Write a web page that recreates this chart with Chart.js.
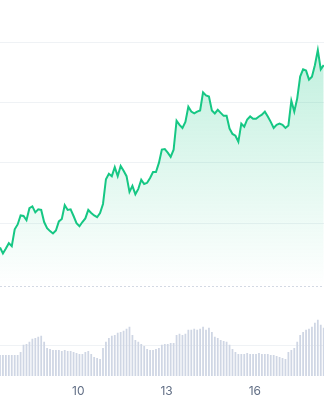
<!DOCTYPE html>
<html>
<head>
<meta charset="utf-8">
<script src="https://cdn.jsdelivr.net/npm/chart.js@4/dist/chart.umd.min.js"></script>
<style>
  html, body { margin: 0; padding: 0; background: #ffffff; }
  #wrap { width: 324px; height: 400px; position: relative; }
</style>
</head>
<body>
<div id="wrap"><canvas id="c"></canvas></div>
<script>
// ---- data ----
const START_DAY = 7.34;   // first sample (day of month)
const STEP = 0.1;         // sampling interval in days
const prices = [
  136.0, 135.0, 135.8, 136.7, 136.2, 139.0, 139.8, 141.3, 141.2, 140.5,
  142.5, 142.8, 141.8, 142.3, 142.2, 140.2, 139.2, 138.7, 138.3, 138.8,
  140.3, 140.7, 143.0, 142.2, 142.3, 141.2, 140.0, 139.5, 140.2, 140.8,
  142.2, 141.7, 141.3, 141.0, 141.7, 143.2, 147.3, 148.2, 147.8, 149.3,
  147.8, 149.5, 148.7, 147.8, 145.2, 146.2, 144.8, 145.7, 147.2, 146.5,
  146.7, 147.5, 148.5, 148.5, 150.0, 152.2, 152.3, 151.7, 151.0, 152.2,
  157.0, 156.3, 155.8, 156.8, 159.3, 158.5, 158.2, 158.5, 158.7, 161.7,
  161.2, 161.0, 158.7, 158.2, 158.8, 158.3, 157.8, 157.8, 155.7, 154.8,
  154.5, 153.5, 156.5, 156.0, 157.2, 157.7, 157.3, 157.3, 157.7, 158.0,
  158.5, 157.7, 156.8, 155.8, 156.3, 156.5, 156.3, 155.8, 156.2, 160.3,
  158.5, 160.7, 164.3, 165.5, 165.3, 163.8, 164.3, 166.2, 168.7, 165.5,
  166.2
];
const volumes = [
  14, 14, 14, 14, 14, 14, 14, 16, 20.7, 21.3,
  22.7, 24.7, 25.3, 26, 26.7, 22.7, 18.7, 18, 17.3, 17.3,
  17.3, 16.7, 17.3, 16.7, 16.7, 16, 15.3, 14.7, 14.7, 16,
  16.7, 14.7, 12.7, 12, 11.3, 18.7, 22.7, 25.3, 26.7, 27.3,
  28.7, 29.3, 30, 31.3, 32.7, 27.3, 24, 22.7, 21.3, 20,
  18, 17.3, 17.3, 18, 18.7, 20.7, 21.3, 21.3, 22, 22,
  27.3, 28, 27.3, 28, 30.7, 30.7, 31.3, 30.7, 31.3, 32.7,
  30.7, 32, 29.3, 26, 25.3, 24, 23.3, 22.7, 20.7, 18,
  16, 14.7, 14.7, 14.7, 15.3, 14.7, 14.7, 14.7, 15.3, 14.7,
  14.7, 14.7, 14, 14, 13.3, 12.7, 12, 11.3, 16, 17.3,
  18.7, 22.7, 27.3, 29.3, 30.7, 31.3, 32.7, 35.3, 37.3, 34,
  32
];
const xTickDays = [10, 13, 16];
const priceGridValues = [140, 150, 160, 170];
const volumeGridValues = [20];

const PRICE_MIN = 129.5, PRICE_MAX = 177;
const VOL_MAX = 59.3;
const X_MIN = 7.34, X_MAX = 18.35;

const times = prices.map((_, i) => +(START_DAY + i * STEP).toFixed(2));
const pricePts = prices.map((v, i) => ({ x: times[i], y: v }));
const volPts = volumes.map((v, i) => ({ x: times[i], y: v }));

const GREEN = '#16c784';

new Chart(document.getElementById('c'), {
  type: 'line',
  data: {
    datasets: [
      {
        type: 'line',
        data: pricePts,
        yAxisID: 'y',
        borderColor: GREEN,
        borderWidth: 2,
        pointRadius: 0,
        tension: 0,
        fill: 'start',
        order: 1,
        backgroundColor: (ctx) => {
          const chart = ctx.chart;
          const ys = chart.scales.y;
          if (!ys || !chart.chartArea) return 'rgba(22,199,132,0.15)';
          const g = chart.ctx.createLinearGradient(0, ys.top, 0, ys.bottom);
          g.addColorStop(0, 'rgba(22,199,132,0.32)');
          g.addColorStop(1, 'rgba(22,199,132,0.0)');
          return g;
        }
      },
      {
        type: 'bar',
        data: volPts,
        yAxisID: 'yv',
        backgroundColor: '#cfd6e4',
        borderWidth: 0,
        barPercentage: 0.6,
        categoryPercentage: 1,
        order: 2
      }
    ]
  },
  options: {
    responsive: true,
    maintainAspectRatio: false,
    animation: false,
    layout: { padding: { left: 0, right: 0, top: 0, bottom: -6.5 } },
    plugins: { legend: { display: false }, tooltip: { enabled: false } },
    scales: {
      x: {
        type: 'linear',
        min: X_MIN,
        max: X_MAX,
        offset: false,
        grid: { display: false, drawTicks: false },
        border: { display: false },
        afterBuildTicks: (s) => { s.ticks = xTickDays.map(v => ({ value: v })); },
        ticks: {
          padding: 8,
          color: '#616e85',
          font: { family: 'Inter', size: 12 },
          maxRotation: 0,
          autoSkip: false,
          callback: (v) => String(v)
        }
      },
      y: {
        type: 'linear',
        position: 'right',
        stack: 'panes',
        stackWeight: 285,
        min: PRICE_MIN,
        max: PRICE_MAX,
        afterBuildTicks: (s) => {
          s.ticks = [{ value: PRICE_MIN }].concat(priceGridValues.map(v => ({ value: v })));
        },
        ticks: { display: false },
        grid: {
          drawTicks: false,
          lineWidth: 1,
          color: (c) => (c.tick && c.tick.value === PRICE_MIN) ? '#d3d9e3' : '#eff2f5'
        },
        border: {
          display: false,
          dash: (c) => (c.tick && c.tick.value === PRICE_MIN) ? [2, 2] : []
        }
      },
      yv: {
        type: 'linear',
        position: 'right',
        stack: 'panes',
        stackWeight: 89,
        min: 0,
        max: VOL_MAX,
        afterBuildTicks: (s) => { s.ticks = volumeGridValues.map(v => ({ value: v })); },
        ticks: { display: false },
        grid: { drawTicks: false, color: '#eff2f5', lineWidth: 1 },
        border: { display: false }
      }
    }
  }
});
</script>
</body>
</html>
